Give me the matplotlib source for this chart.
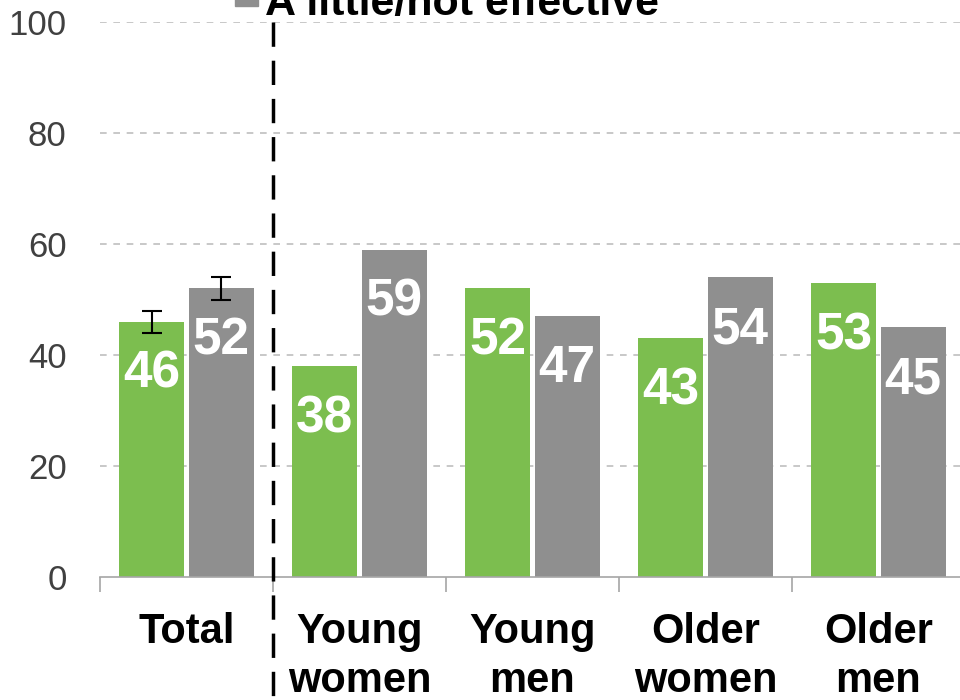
import matplotlib
matplotlib.use("Agg")
import matplotlib.pyplot as plt
from matplotlib.patches import Rectangle
import numpy as np

categories = ["Total", "Young\nwomen", "Young\nmen", "Older\nwomen", "Older\nmen"]
effective = [46, 38, 52, 43, 53]
not_effective = [52, 59, 47, 54, 45]
err_effective = [2, 0, 0, 0, 0]
err_not_effective = [2, 0, 0, 0, 0]
yticks = [0, 20, 40, 60, 80, 100]
legend_label = "A little/not effective"

GREEN = "#7CBE4F"
GRAY = "#8F8F8F"

plt.rcParams['font.family'] = ['Liberation Sans', 'DejaVu Sans']

fig = plt.figure(figsize=(9.6, 7), dpi=100)
ax = fig.add_axes([100/960, 1 - 577/700, 865/960, (577 - 22)/700])

x = np.arange(len(categories))
w = 0.375
off = 0.2
ax.bar(x - off, effective, w, color=GREEN, zorder=2)
ax.bar(x + off, not_effective, w, color=GRAY, zorder=2)

# error bars on Total only
ax.errorbar([x[0] - off], [effective[0]], yerr=[err_effective[0]], fmt='none',
            ecolor='black', elinewidth=1.5, capsize=7, capthick=1.5, zorder=3)
ax.errorbar([x[0] + off], [not_effective[0]], yerr=[err_not_effective[0]], fmt='none',
            ecolor='black', elinewidth=1.5, capsize=7, capthick=1.5, zorder=3)

for xi, v in zip(x, effective):
    ax.text(xi - off, v - 9.5, str(v), ha='center', va='center', color='white',
            fontsize=37, fontweight='bold', zorder=4)
for xi, v in zip(x, not_effective):
    ax.text(xi + off, v - 9.5, str(v), ha='center', va='center', color='white',
            fontsize=37, fontweight='bold', zorder=4)

ax.set_xlim(-0.5, len(categories) - 0.5)
ax.set_ylim(0, 100)
ax.set_yticks(yticks)
ax.set_yticklabels([str(t) for t in yticks], fontsize=25, color='#404040')
ax.tick_params(axis='y', length=0, pad=24)
for t in yticks[1:]:
    ax.axhline(t, color='#BFBFBF', linestyle=(0, (4, 4)), linewidth=1.2, zorder=1)

ax.set_xticks(x)
ax.set_xticklabels(categories, fontsize=30, fontweight='bold', va='top', linespacing=1.3)
ax.tick_params(axis='x', which='major', length=0, pad=25)
ax.set_xticks(np.arange(-0.5, len(categories) + 0.5, 1), minor=True)
ax.tick_params(axis='x', which='minor', length=11, width=1.2, color='#A6A6A6', direction='out')

for s in ['top', 'right', 'left']:
    ax.spines[s].set_visible(False)
ax.spines['bottom'].set_color('#A6A6A6')
ax.spines['bottom'].set_linewidth(1.2)

# dashed separator
ax.plot([0.5, 0.5], [100, -30], color='black', linestyle=(0, (7, 4)), linewidth=2.5,
        clip_on=False, zorder=5)

# legend (partially cut off at the top)
fig.patches.append(Rectangle((235/960, 1 - 6/700), 23/960, 23/700, transform=fig.transFigure,
                             color=GRAY, clip_on=False))
fig.text(265/960, 1 - 15/700, legend_label, fontsize=31, fontweight='bold',
         ha='left', va='baseline', color='black')

fig.savefig("out.png", dpi=100)
